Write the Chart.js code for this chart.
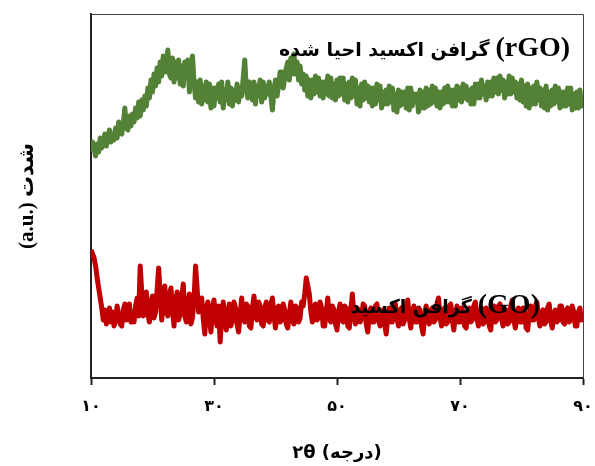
<!DOCTYPE html>
<html><head><meta charset="utf-8">
<script src="https://cdn.jsdelivr.net/npm/chart.js@4/dist/chart.umd.min.js"></script>
<style>html,body{margin:0;padding:0;background:#fff}#wrap{width:595px;height:466px}</style>
</head><body><div id="wrap"><canvas id="c" width="595" height="466"></canvas></div>
<script>
// 2θ sampling grid (degrees)
const angleStart = 10;
const angleStep = 0.25;
const xTicks = [10, 30, 50, 70, 90];
const xTickLabels = ['۱۰', '۳۰', '۵۰', '۷۰', '۹۰'];
// rGO intensity (a.u.), one row per degree
const rgoValues = [
  226,236,230,222, 234,226,240,230, 236,244,232,240, 248,236,244,238, 250,240,256,246,
  244,254,270,250, 248,262,252,264, 256,270,260,276, 262,278,268,282, 272,290,280,298,
  286,304,292,310, 296,316,302,322, 306,314,328,304, 300,320,296,316, 300,318,294,312,
  292,316,300,318, 286,306,322,296, 280,296,276,298, 274,292,278,296, 276,294,270,290,
  272,290,280,294, 276,296,270,288, 278,296,274,290, 272,288,278,294, 276,290,282,300,
  318,290,280,296, 294,278,296,274, 292,282,298,276, 296,280,292,284, 296,282,268,288,
  298,282,292,306, 306,290,300,310, 316,298,320,304, 324,304,316,298, 312,294,304,288,
  302,282,298,280, 298,284,302,286, 300,282,296,280, 296,284,302,282, 300,280,294,278,
  298,282,300,284, 300,278,294,276, 296,280,300,282, 298,274,290,272, 294,278,296,280,
  292,276,290,272, 290,274,294,278, 292,270,286,274, 288,274,292,276, 290,268,284,266,
  288,272,286,274, 286,270,290,268, 290,272,284,276, 284,266,288,270, 286,270,290,272,
  288,274,292,276, 290,272,286,270, 286,274,290,276, 292,276,288,272, 288,272,292,278,
  290,276,294,280, 292,278,288,274, 290,274,294,280, 294,280,298,284, 292,278,296,282,
  296,282,300,286, 300,284,302,288, 298,280,296,284, 302,284,300,286, 296,280,294,278,
  298,276,292,272, 294,270,290,274, 292,274,296,278, 290,272,288,270, 292,268,286,272,
  288,274,292,276, 290,270,286,272, 286,272,290,274, 290,268,284,270, 286,270,288,272,
  282];
// GO intensity (a.u.), one row per degree
const goValues = [
  128,124,120,112, 100,90,80,70, 58,68,54,64, 70,56,66,52, 58,72,62,54,
  52,68,74,58, 60,74,56,66, 56,72,80,62, 112,86,62,78, 86,64,56,74,
  82,60,66,88, 110,84,58,76, 92,66,62,84, 90,68,52,76, 86,58,64,80,
  94,62,56,74, 84,54,60,78, 112,90,66,74, 80,60,44,68, 76,58,46,70,
  78,60,52,72, 36,62,76,56, 48,66,74,52, 58,76,70,54, 46,64,80,60,
  56,74,72,52, 50,70,82,62, 58,76,72,54, 52,70,76,58, 56,74,80,62,
  50,68,72,56, 58,74,68,54, 50,64,76,58, 54,72,70,56, 60,76,72,84,
  100,92,84,66, 56,70,74,58, 60,76,70,52, 52,66,80,60, 56,72,68,54,
  48,66,74,58, 56,72,70,52, 50,68,84,62, 54,70,68,56, 60,74,72,54,
  46,64,70,56, 56,72,74,58, 52,66,68,54, 44,62,70,56, 56,70,74,60,
  52,68,70,54, 58,72,78,60, 50,66,72,56, 56,70,68,52, 44,62,72,58,
  54,68,70,56, 58,74,80,62, 52,68,70,54, 56,72,74,58, 48,64,72,56,
  56,70,66,52, 50,66,70,56, 58,72,76,60, 52,68,70,54, 56,70,68,52,
  48,66,72,56, 58,72,74,60, 52,66,68,54, 56,72,78,58, 50,64,70,56,
  56,70,66,50, 48,64,72,58, 58,72,76,60, 52,66,68,54, 56,70,74,58,
  50,64,68,56, 58,72,72,56, 54,68,70,56, 58,72,66,52, 52,66,70,58,
  62];
// in-plot series labels: Persian name + Latin abbreviation, anchored at right end / baseline
const seriesNames = ['گرافن اکسید احیا شده', 'گرافن اکسید'];
const seriesAbbr = ['(rGO)', '(GO)'];
const labelX = [87.9, 83.0];
const labelY = [322, 65];

const toPts = vals => vals.map((v, i) => ({x: angleStart + i * angleStep, y: v}));

const annot = {
  id: 'annot',
  afterDatasetsDraw(chart) {
    const {ctx, scales: {x, y}, chartArea: a} = chart;
    ctx.save();
    // frame (top and right edges)
    ctx.strokeStyle = '#444';
    ctx.lineWidth = 1;
    ctx.beginPath();
    ctx.moveTo(a.left, a.top + 0.5); ctx.lineTo(a.right + 0.5, a.top + 0.5); ctx.lineTo(a.right + 0.5, a.bottom);
    ctx.stroke();
    ctx.fillStyle = '#000';
    ctx.textAlign = 'right';
    ctx.textBaseline = 'alphabetic';
    seriesNames.forEach((name, i) => {
      const px = x.getPixelForValue(labelX[i]);
      const py = y.getPixelForValue(labelY[i]);
      ctx.font = "bold 28px 'Liberation Serif'";
      ctx.fillText(seriesAbbr[i], px, py);
      const w = ctx.measureText(seriesAbbr[i]).width;
      ctx.font = "bold 19px 'DejaVu Sans'";
      ctx.fillText(name, px - w - 6, py);
    });
    ctx.restore();
  }
};

new Chart(document.getElementById('c'), {
  type: 'line',
  data: {
    datasets: [
      {data: toPts(rgoValues), borderColor: '#538135', borderWidth: 5, pointRadius: 0, tension: 0, borderJoinStyle: 'round'},
      {data: toPts(goValues), borderColor: '#C00000', borderWidth: 5, pointRadius: 0, tension: 0, borderJoinStyle: 'round'}
    ]
  },
  options: {
    responsive: false,
    animation: false,
    events: [],
    layout: {padding: {top: 14, right: 12, left: 0, bottom: 0}},
    plugins: {legend: {display: false}, tooltip: {enabled: false}},
    scales: {
      x: {
        type: 'linear', min: 10, max: 90,
        afterBuildTicks: s => { s.ticks = xTicks.map(v => ({value: v})); },
        afterFit: s => { s.height = 88; s.paddingRight = 0; s.paddingLeft = 0; },
        ticks: {
          callback: (v) => xTickLabels[xTicks.indexOf(v)] ?? '',
          color: '#000', font: {family: "'DejaVu Sans'", weight: 'bold', size: 16}, padding: 12, maxRotation: 0
        },
        grid: {drawOnChartArea: false, drawTicks: true, tickLength: 7, tickColor: '#222', tickWidth: 2},
        border: {display: true, color: '#222', width: 2},
        title: {display: true, text: '۲θ (درجه)', color: '#000', font: {family: "'DejaVu Sans'", weight: 'bold', size: 18}, padding: {top: 0, bottom: 2}}
      },
      y: {
        min: 0, max: 364,
        afterFit: s => { s.width = 91; },
        ticks: {display: false},
        grid: {display: false, drawTicks: false},
        border: {display: true, color: '#222', width: 2},
        title: {display: true, text: '(a.u.) شدت', color: '#000', font: {family: "'Liberation Serif', 'DejaVu Sans'", weight: 'bold', size: 21}, padding: {top: 15, bottom: 0}}
      }
    }
  },
  plugins: [annot]
});
</script></body></html>
